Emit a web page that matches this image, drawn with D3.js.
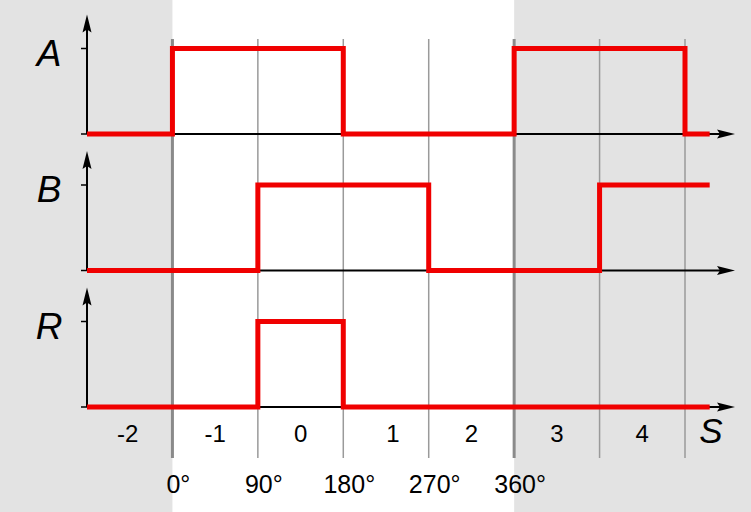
<!DOCTYPE html>
<html><head><meta charset="utf-8">
<script src="https://cdn.jsdelivr.net/npm/d3@7"></script>
<style>body{margin:0;background:#fff}svg{display:block}text{font-family:"Liberation Sans",Arial,sans-serif;fill:#000}</style>
</head><body><svg id="c" width="751" height="512"></svg>
<script>
// step boundaries in degrees (state changes every 90°)
const phaseEdges = [-90, 0, 90, 180, 270, 360, 450, 540, 566];
const seriesA = [0, 1, 1, 0, 0, 1, 1, 0, 0];
const seriesB = [0, 0, 1, 1, 0, 0, 1, 1, 1];
const seriesR = [0, 0, 1, 0, 0, 0, 0, 0, 0];
const seriesNames = ["A", "B", "R"];
const stepLabels = ["-2", "-1", "0", "1", "2", "3", "4"];
const gridDegrees = [0, 90, 180, 270, 360, 450, 540];
const degreeTicks = [0, 90, 180, 270, 360];
const degreeLabels = ["0°", "90°", "180°", "270°", "360°"];

const svg = d3.select("#c");
const x = d3.scaleLinear().domain([-90, 540]).range([87, 685]);
const panelBase = [134, 270.5, 407];
const panelH = 85.5;

// shaded background outside 0..360
svg.append("rect").attr("x", 0).attr("y", 0).attr("width", x(0)).attr("height", 512).attr("fill", "#e3e3e3");
svg.append("rect").attr("x", x(360)).attr("y", 0).attr("width", 751 - x(360)).attr("height", 512).attr("fill", "#e3e3e3");

// vertical grid lines
svg.selectAll("line.grid").data(gridDegrees).join("line")
  .attr("x1", d => x(d)).attr("x2", d => x(d))
  .attr("y1", 39).attr("y2", 458)
  .attr("stroke", d => (d % 360 === 0) ? "#8a8a8a" : "#9a9a9a")
  .attr("stroke-width", d => (d % 360 === 0) ? 3 : 1.5);

const allSeries = [seriesA, seriesB, seriesR];
allSeries.forEach((vals, i) => {
  const base = panelBase[i];
  const y = d3.scaleLinear().domain([0, 1]).range([base, base - panelH]);
  const g = svg.append("g");
  g.append("line").attr("x1", x(-90)).attr("x2", 720).attr("y1", base).attr("y2", base)
    .attr("stroke", "#000").attr("stroke-width", 2);
  g.append("path").attr("d", `M735,${base} L717,${base-4.5} L720,${base} L717,${base+4.5} Z`).attr("fill", "#000");
  const ax = x(-90);
  const top = base - panelH - 34;
  g.append("line").attr("x1", ax).attr("x2", ax).attr("y1", base).attr("y2", top + 14)
    .attr("stroke", "#000").attr("stroke-width", 2);
  g.append("path").attr("d", `M${ax},${top} L${ax-4.5},${top+18} L${ax},${top+15} L${ax+4.5},${top+18} Z`).attr("fill", "#000");
  [0, 1].forEach(v => g.append("line").attr("x1", ax - 6).attr("x2", ax).attr("y1", y(v)).attr("y2", y(v))
    .attr("stroke", "#000").attr("stroke-width", 1.5));
  g.append("text").attr("x", 49).attr("y", y(1) + 17).attr("text-anchor", "middle")
    .attr("font-size", 37).attr("font-style", "italic").text(seriesNames[i]);
  const line = d3.line().x((d, j) => x(phaseEdges[j])).y(d => y(d)).curve(d3.curveStepAfter);
  g.append("path").attr("d", line(vals)).attr("fill", "none").attr("stroke", "#f00000")
    .attr("stroke-width", 5).attr("stroke-linejoin", "miter");
});

const stepOffsets = [-2, 0, 0, 7, 0, 0, 0];
svg.selectAll("text.step").data(stepLabels).join("text")
  .attr("x", (d, i) => x(-45 + 90 * i) + stepOffsets[i]).attr("y", 442)
  .attr("text-anchor", "middle").attr("font-size", 24).text(d => d);
svg.append("text").attr("x", 711).attr("y", 443).attr("text-anchor", "middle")
  .attr("font-size", 35).attr("font-style", "italic").text("S");

svg.selectAll("text.deg").data(degreeTicks).join("text")
  .attr("x", (d, i) => x(d) + 6).attr("y", 493)
  .attr("text-anchor", "middle").attr("font-size", 25).text((d, i) => degreeLabels[i]);
</script></body></html>
